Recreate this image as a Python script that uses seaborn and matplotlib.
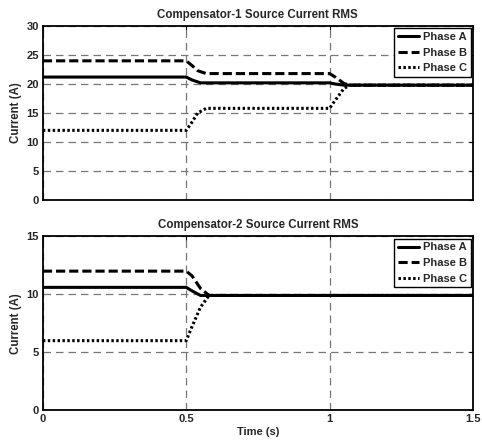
import numpy as np
import pandas as pd
import matplotlib
matplotlib.use("Agg")
import matplotlib.pyplot as plt
import seaborn as sns

# data (time in s, current in A)
t1_a = [0, 0.50, 0.52, 0.55, 1.00, 1.02, 1.05, 1.5]
i1_a = [21.2, 21.2, 20.7, 20.2, 20.2, 20.0, 19.8, 19.8]
t1_b = [0, 0.50, 0.52, 0.54, 0.57, 1.00, 1.02, 1.05, 1.07, 1.5]
i1_b = [24.0, 24.0, 23.2, 22.3, 21.8, 21.8, 21.2, 20.1, 19.8, 19.8]
t1_c = [0, 0.50, 0.52, 0.54, 0.57, 1.00, 1.02, 1.05, 1.07, 1.5]
i1_c = [12.0, 12.0, 13.4, 15.0, 15.8, 15.8, 17.2, 19.2, 19.8, 19.8]

t2_a = [0, 0.50, 0.52, 0.55, 1.5]
i2_a = [10.6, 10.6, 10.3, 9.9, 9.9]
t2_b = [0, 0.50, 0.52, 0.55, 0.58, 1.5]
i2_b = [12.0, 12.0, 11.6, 10.5, 9.9, 9.9]
t2_c = [0, 0.50, 0.52, 0.55, 0.58, 1.5]
i2_c = [6.0, 6.0, 7.2, 8.9, 9.9, 9.9]

phases = ["Phase A", "Phase B", "Phase C"]
titles = ["Compensator-1 Source Current RMS", "Compensator-2 Source Current RMS"]

sns.set_style("white")
plt.rcParams['font.family'] = ['Liberation Sans', 'DejaVu Sans']
plt.rcParams['font.weight'] = 'bold'
plt.rcParams['axes.labelweight'] = 'bold'
plt.rcParams['axes.titleweight'] = 'bold'

fig, axes = plt.subplots(2, 1, figsize=(4.82, 4.42), dpi=100)
fig.subplots_adjust(left=0.089, right=0.981, top=0.941, bottom=0.072, hspace=0.21)

styles = [dict(linestyle='-', linewidth=2.2),
          dict(linestyle=(0, (3, 1.3)), linewidth=2.2),
          dict(linestyle=(0, (0.8, 0.8)), linewidth=2.2)]

panels = [
    [(t1_a, i1_a), (t1_b, i1_b), (t1_c, i1_c)],
    [(t2_a, i2_a), (t2_b, i2_b), (t2_c, i2_c)],
]
ylims = [(0, 30, 5), (0, 15, 5)]

for ax, series, title, (lo, hi, step) in zip(axes, panels, titles, ylims):
    for (t, i), name, st in zip(series, phases, styles):
        sns.lineplot(x=t, y=i, ax=ax, color='black', label=name, **st)
    ax.set_xlim(0, 1.5)
    ax.set_ylim(lo, hi)
    ax.set_xticks([0, 0.5, 1, 1.5])
    ax.set_yticks(np.arange(lo, hi + 0.1, step))
    ax.set_xticklabels(['0', '0.5', '1', '1.5'])
    ax.grid(True, color='#777777', linestyle=(0, (6, 4)), linewidth=0.9)
    ax.set_axisbelow(True)
    for s in ax.spines.values():
        s.set_color('black')
        s.set_linewidth(1.3)
    ax.tick_params(axis='both', labelsize=8, direction='in', length=3,
                   top=True, right=True, pad=3, color='black')
    ax.set_title(title, fontsize=8.3, pad=6)
    ax.set_ylabel("Current (A)", fontsize=8.3, labelpad=3)
    leg = ax.legend(loc='upper right', fontsize=8, frameon=True, fancybox=False,
                    borderaxespad=0.2, handlelength=1.9, handletextpad=0.3,
                    labelspacing=0.5, borderpad=0.35)
    leg.get_frame().set_edgecolor('black')
    leg.get_frame().set_linewidth(1.0)
    leg.get_frame().set_alpha(1)

axes[0].set_xticklabels([])
axes[0].set_xlabel("")
axes[1].set_xlabel("Time (s)", fontsize=8, labelpad=2)

fig.savefig("out.png", dpi=100)
